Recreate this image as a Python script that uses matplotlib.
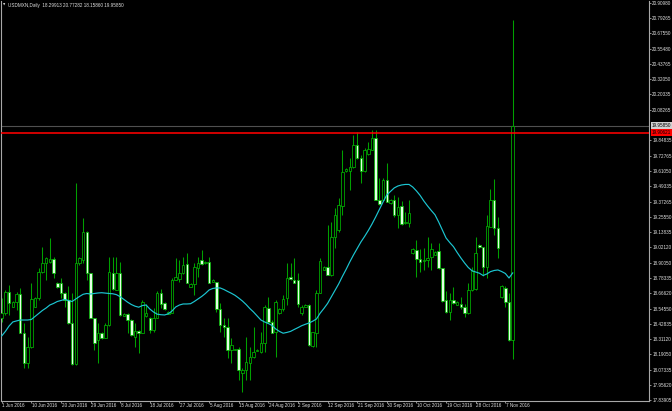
import numpy as np
import matplotlib
matplotlib.use("Agg")
import matplotlib.pyplot as plt
import matplotlib.transforms as mtransforms

# ---------------- data (USDMXN Daily, 1 Jun 2016 - 9 Nov 2016, incl. Sunday bars) ----------------
opens = [18.470, 18.510, 18.676, 18.560, 18.597, 18.658, 18.359, 18.123, 18.246, 18.560,
         18.625, 18.831, 18.896, 18.908, 18.927, 18.741, 18.741, 18.664, 18.612, 18.432,
         18.115, 18.896, 18.921, 19.140, 18.818, 18.475, 18.303, 18.354, 18.316, 18.419,
         18.823, 18.689, 18.823, 18.488, 18.504, 18.457, 18.328, 18.372, 18.359, 18.491,
         18.470, 18.380, 18.470, 18.668, 18.587, 18.504, 18.509, 18.767, 18.772, 18.818,
         18.888, 18.715, 18.736, 18.857, 18.921, 18.896, 18.908, 18.754, 18.754, 18.540,
         18.419, 18.406, 18.226, 18.226, 18.231, 18.050, 18.071, 18.128, 18.174, 18.218,
         18.213, 18.277, 18.548, 18.444, 18.367, 18.509, 18.540, 18.625, 18.787, 18.767,
         18.767, 18.509, 18.560, 18.573, 18.256, 18.359, 18.668, 18.844, 18.865, 18.805,
         19.101, 19.153, 19.338, 19.609, 19.612, 19.643, 19.810, 19.707, 19.609, 19.738,
         19.772, 19.867, 19.385, 19.385, 19.540, 19.359, 19.385, 19.269, 19.339, 19.205,
         19.210, 18.973, 18.999, 18.927, 18.911, 18.921, 18.942, 18.960, 18.994, 18.857,
         18.612, 18.522, 18.612, 18.573, 18.581, 18.556, 18.509, 18.689, 18.695, 19.037,
         19.024, 18.870, 19.179, 19.385, 19.166, 18.637, 18.702, 18.594, 18.29913]
highs = [18.625, 18.689, 18.728, 18.604, 18.676, 18.702, 18.432, 18.328, 18.741, 18.637,
         18.857, 19.024, 18.947, 19.089, 18.947, 18.751, 18.780, 18.676, 18.720, 18.664,
         19.519, 18.942, 19.243, 19.145, 18.823, 18.475, 18.432, 18.361, 18.432, 18.947,
         18.947, 18.942, 18.908, 18.508, 18.509, 18.462, 18.432, 18.380, 18.612, 18.581,
         18.483, 18.548, 18.684, 18.695, 18.599, 18.523, 18.780, 18.934, 18.921, 18.942,
         18.978, 18.740, 18.896, 18.942, 18.999, 18.914, 18.947, 18.771, 18.754, 18.591,
         18.470, 18.470, 18.316, 18.234, 18.251, 18.084, 18.328, 18.251, 18.406, 18.230,
         18.367, 18.573, 18.637, 18.457, 18.612, 18.548, 18.651, 18.896, 18.896, 18.934,
         18.818, 18.573, 18.581, 18.581, 18.367, 18.689, 18.934, 18.871, 19.192, 19.217,
         19.321, 19.398, 19.775, 19.632, 19.707, 19.887, 19.913, 19.733, 19.785, 19.836,
         19.926, 19.926, 19.553, 19.553, 19.669, 19.393, 19.424, 19.410, 19.380, 19.295,
         19.385, 19.012, 19.076, 19.004, 19.012, 19.101, 19.050, 18.991, 19.050, 18.857,
         18.684, 18.668, 18.715, 18.604, 18.637, 18.581, 18.741, 18.869, 19.101, 19.043,
         19.024, 19.269, 19.468, 19.545, 19.256, 18.728, 18.720, 18.664, 20.77282]
lows = [18.444, 18.496, 18.496, 18.558, 18.535, 18.354, 18.084, 18.084, 18.239, 18.556,
        18.612, 18.823, 18.767, 18.896, 18.780, 18.705, 18.625, 18.560, 18.427, 18.110,
        18.110, 18.883, 18.896, 18.767, 18.470, 18.226, 18.123, 18.311, 18.316, 18.411,
        18.689, 18.689, 18.491, 18.485, 18.354, 18.334, 18.251, 18.205, 18.354, 18.483,
        18.354, 18.367, 18.470, 18.548, 18.535, 18.500, 18.509, 18.767, 18.751, 18.813,
        18.741, 18.712, 18.651, 18.792, 18.883, 18.890, 18.741, 18.751, 18.522, 18.367,
        18.328, 18.161, 18.123, 18.222, 17.994, 17.904, 17.994, 17.994, 18.161, 18.214,
        18.200, 18.213, 18.432, 18.359, 18.174, 18.504, 18.529, 18.573, 18.767, 18.741,
        18.560, 18.496, 18.558, 18.260, 18.251, 18.251, 18.664, 18.840, 18.805, 18.798,
        19.012, 19.140, 19.269, 19.601, 19.462, 19.630, 19.699, 19.514, 19.604, 19.733,
        19.772, 19.385, 19.346, 19.385, 19.372, 19.354, 19.256, 19.166, 19.192, 19.200,
        19.179, 18.968, 18.792, 18.831, 18.844, 18.870, 18.844, 18.956, 18.850, 18.599,
        18.514, 18.457, 18.581, 18.570, 18.540, 18.478, 18.504, 18.684, 18.689, 19.012,
        18.798, 18.780, 19.179, 19.115, 18.934, 18.625, 18.556, 18.298, 18.15860]
closes = [18.514, 18.676, 18.587, 18.599, 18.658, 18.359, 18.123, 18.251, 18.617, 18.625,
          18.831, 18.900, 18.934, 18.929, 18.823, 18.715, 18.668, 18.612, 18.432, 18.115,
          18.896, 18.934, 19.140, 18.818, 18.470, 18.282, 18.354, 18.316, 18.419, 18.831,
          18.695, 18.823, 18.496, 18.501, 18.457, 18.341, 18.372, 18.359, 18.599, 18.514,
          18.380, 18.475, 18.668, 18.581, 18.540, 18.517, 18.767, 18.787, 18.823, 18.883,
          18.746, 18.736, 18.865, 18.896, 18.890, 18.908, 18.746, 18.767, 18.540, 18.419,
          18.406, 18.226, 18.264, 18.231, 18.071, 18.071, 18.135, 18.174, 18.213, 18.226,
          18.277, 18.560, 18.444, 18.359, 18.599, 18.540, 18.617, 18.780, 18.772, 18.746,
          18.581, 18.560, 18.576, 18.264, 18.367, 18.668, 18.914, 18.865, 18.805, 19.101,
          19.269, 19.346, 19.601, 19.622, 19.643, 19.810, 19.707, 19.609, 19.772, 19.777,
          19.862, 19.385, 19.354, 19.540, 19.372, 19.385, 19.269, 19.333, 19.200, 19.218,
          19.282, 19.004, 18.927, 18.903, 18.921, 18.939, 19.004, 18.986, 18.857, 18.607,
          18.522, 18.612, 18.587, 18.599, 18.556, 18.509, 18.689, 18.838, 18.973, 19.019,
          18.870, 19.184, 19.385, 19.166, 19.016, 18.722, 18.594, 18.303, 19.95850]
ma_values = [18.334, 18.369, 18.411, 18.442, 18.450, 18.457, 18.457, 18.457, 18.461, 18.484,
             18.508, 18.531, 18.550, 18.573, 18.585, 18.600, 18.608, 18.616, 18.608, 18.600,
             18.620, 18.639, 18.656, 18.662, 18.658, 18.662, 18.666, 18.668, 18.665, 18.662,
             18.660, 18.653, 18.637, 18.616, 18.595, 18.577, 18.564, 18.556, 18.569, 18.573,
             18.542, 18.519, 18.502, 18.498, 18.496, 18.505, 18.527, 18.558, 18.573, 18.581,
             18.581, 18.583, 18.600, 18.620, 18.639, 18.662, 18.689, 18.701, 18.705, 18.705,
             18.693, 18.678, 18.664, 18.648, 18.627, 18.604, 18.577, 18.546, 18.519, 18.488,
             18.457, 18.442, 18.430, 18.415, 18.388, 18.369, 18.355, 18.361, 18.369, 18.384,
             18.398, 18.413, 18.424, 18.434, 18.448, 18.465, 18.510, 18.546, 18.585, 18.635,
             18.685, 18.736, 18.794, 18.848, 18.906, 18.960, 19.010, 19.060, 19.103, 19.149,
             19.199, 19.254, 19.312, 19.370, 19.424, 19.451, 19.478, 19.493, 19.501, 19.505,
             19.505, 19.485, 19.455, 19.420, 19.377, 19.339, 19.304, 19.271, 19.215, 19.153,
             19.091, 19.056, 19.024, 18.979, 18.937, 18.898, 18.863, 18.838, 18.828, 18.819,
             18.801, 18.813, 18.831, 18.840, 18.844, 18.832, 18.817, 18.782, 18.821]

date_labels = ['1 Jun 2016', '10 Jun 2016', '20 Jun 2016', '29 Jun 2016', '8 Jul 2016',
               '18 Jul 2016', '27 Jul 2016', '5 Aug 2016', '15 Aug 2016', '24 Aug 2016',
               '2 Sep 2016', '12 Sep 2016', '21 Sep 2016', '30 Sep 2016', '10 Oct 2016',
               '19 Oct 2016', '28 Oct 2016', '7 Nov 2016']
bars_per_label = 8

price_ticks = [20.90980, 20.79265, 20.67550, 20.55480, 20.43765, 20.32050, 20.20335, 20.08265,
               19.84835, 19.72765, 19.61050, 19.49335, 19.37265, 19.25550, 19.13835, 19.02120,
               18.90050, 18.78335, 18.66620, 18.54550, 18.42835, 18.31120, 18.19050, 18.07335,
               17.95620, 17.83905]
bid_price = 19.95850
red_level = 19.90621
title_text = "USDMXN,Daily  18.29913 20.77282 18.15860 19.95850"
y_range = (17.831, 20.923)

# ---------------- styles ----------------
BG = 'black'
WICK = '#00a000'
EDGE = '#00b400'
BEAR_FILL = '#e4ffe4'
BULL_FILL = 'black'
MA_COLOR = '#1cc6d2'
AXIS_COLOR = '#a8a8a8'
TXT = '#e0e0e0'
FS = 3.35
FONT = ['Liberation Sans', 'DejaVu Sans']

plt.rcParams['font.family'] = FONT

W, H = 672, 411
fig = plt.figure(figsize=(W / 100, H / 100), dpi=100, facecolor=BG)
ax = fig.add_axes([1 / W, 10 / H, 648 / W, 400 / H], facecolor=BG)

n = len(opens)
x = np.arange(n)
o = np.array(opens); h = np.array(highs); l = np.array(lows); c = np.array(closes)

# wicks
ax.vlines(x, l, h, color=WICK, linewidth=0.75, zorder=2)
# bodies
bull = c >= o
bottoms = np.minimum(o, c)
heights = np.maximum(np.abs(c - o), 0.003)
ax.bar(x[bull], heights[bull], bottom=bottoms[bull], width=0.68,
       color=BULL_FILL, edgecolor=EDGE, linewidth=0.55, zorder=3)
ax.bar(x[~bull], heights[~bull], bottom=bottoms[~bull], width=0.68,
       color=BEAR_FILL, edgecolor=EDGE, linewidth=0.55, zorder=3)

# moving average
ax.plot(x, ma_values, color=MA_COLOR, linewidth=0.85, zorder=4)

# horizontal lines
ax.axhline(bid_price, color='#505050', linewidth=0.8, zorder=1)
ax.axhline(red_level, color='#ff0000', linewidth=1.15, zorder=5)

# limits
px_per_bar = 3.703
xmin = -0.7 / px_per_bar
ax.set_xlim(xmin, xmin + 648 / px_per_bar)
ax.set_ylim(*y_range)

# spines
for side in ['left', 'right', 'bottom']:
    ax.spines[side].set_color(AXIS_COLOR)
    ax.spines[side].set_linewidth(0.8)
ax.spines['top'].set_visible(False)

# right price axis
ax.yaxis.tick_right()
ax.set_yticks(price_ticks)
ax.set_yticklabels([f"{v:.5f}" for v in price_ticks])
ax.tick_params(axis='y', which='both', colors=AXIS_COLOR, length=1.5, width=0.6,
               pad=0.8, labelsize=FS, labelcolor=TXT)

# bottom date axis
label_pos = [i * bars_per_label for i in range(len(date_labels))]
ax.set_xticks(label_pos)
ax.set_xticklabels([])
ax.tick_params(axis='x', which='both', colors=AXIS_COLOR, length=1.5, width=0.6)
btrans = mtransforms.blended_transform_factory(ax.transData, ax.transAxes)
for p, s in zip(label_pos, date_labels):
    ax.text(p + 0.15, -0.0115, s, transform=btrans, ha='left', va='center',
            fontsize=FS, color=TXT, clip_on=False)

# price labels boxes
rtrans = mtransforms.blended_transform_factory(ax.transAxes, ax.transData)
ax.text(1.0 + 2.5 / 648, bid_price, f"{bid_price:.5f}", transform=rtrans, ha='left',
        va='center', fontsize=FS, color='black', clip_on=False, zorder=10,
        bbox=dict(boxstyle='square,pad=0.18', fc='#d0d0d0', ec='none'))
ax.text(1.0 + 2.5 / 648, red_level, f"{red_level:.5f}", transform=rtrans, ha='left',
        va='center', fontsize=FS, color='black', clip_on=False, zorder=10,
        bbox=dict(boxstyle='square,pad=0.18', fc='#ff0000', ec='none'))

# title
fig.text(3 / W, 1 - 5 / H, '\u25bc', fontsize=2.2, color=TXT, va='center', ha='left',
         family=['DejaVu Sans'])
fig.text(8.5 / W, 1 - 5 / H, title_text, fontsize=FS, color=TXT, va='center', ha='left')

fig.savefig('out.png', dpi=100, facecolor=BG)
